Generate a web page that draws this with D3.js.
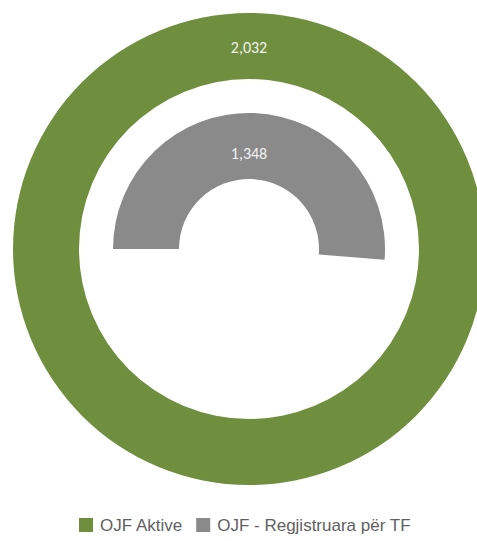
<!DOCTYPE html>
<html>
<head>
<meta charset="utf-8">
<script src="https://cdn.jsdelivr.net/npm/d3@7"></script>
<style>
    body { margin: 0; background: #fff; }
    svg { display: block; }
</style>
</head>
<body>
<svg id="chart"></svg>
<script>
// data
let seriesNames = ['OJF Aktive', 'OJF - Regjistruara për TF'];
let seriesValues = [2032, 1348];
let seriesColors = ['#6f8f3f', '#8a8a8a'];
// the inner ring only covers part of a turn in the picture
let ringFullValue = [2032, 2630];

let width = 477,
    height = 541;

let svg = d3.select('#chart')
    .attr('width', width)
    .attr('height', height);

// centre and radii of the two rings
let cx = 249, cy = 249;
let rings = [
    {inner: 170, outer: 236, labelY: -202},
    {inner: 70, outer: 136, labelY: -96}
];

let g = svg.append('g')
    .attr('transform', 'translate(' + cx + ',' + cy + ')');

// 画环
seriesValues.forEach(function (v, i) {
    let angle = d3.scaleLinear()
        .domain([0, ringFullValue[i]])
        .range([-Math.PI / 2, Math.PI * 1.5]);
    let arc = d3.arc()
        .innerRadius(rings[i].inner)
        .outerRadius(rings[i].outer)
        .startAngle(angle(0))
        .endAngle(angle(v));
    g.append('path')
        .attr('d', arc())
        .attr('fill', seriesColors[i]);

    // 标签 放在环的顶部
    g.append('text')
        .attr('x', 0)
        .attr('y', rings[i].labelY)
        .attr('dy', '0.35em')
        .attr('text-anchor', 'middle')
        .style('font-family', 'Carlito, Calibri, "Liberation Sans", sans-serif')
        .style('font-size', '16px')
        .style('fill', '#f2f2f2')
        .text(d3.format(',')(v));
});

// 图例
let legend = svg.append('g')
    .attr('transform', 'translate(79,518)');
let lx = 0;
seriesNames.forEach(function (name, i) {
    let item = legend.append('g').attr('transform', 'translate(' + lx + ',0)');
    item.append('rect')
        .attr('x', 0).attr('y', 0)
        .attr('width', 14).attr('height', 14)
        .attr('fill', seriesColors[i]);
    let t = item.append('text')
        .attr('x', 21).attr('y', 13)
        .style('font-family', '"Liberation Sans", Arial, sans-serif')
        .style('font-size', '17px')
        .style('fill', '#5f5f5f')
        .text(name);
    lx += 21 + t.node().getComputedTextLength() + 14;
});
</script>
</body>
</html>
